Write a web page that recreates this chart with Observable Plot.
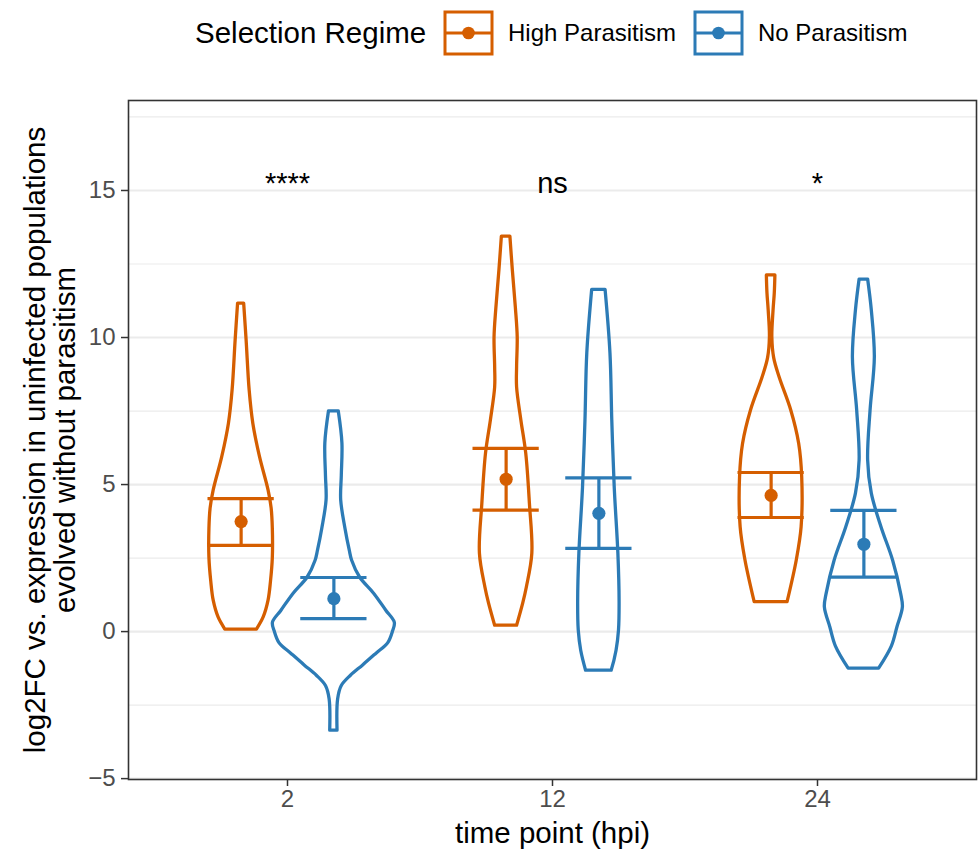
<!DOCTYPE html>
<html>
<head>
<meta charset="utf-8">
<script src="https://cdn.jsdelivr.net/npm/d3@7"></script>
<script src="https://cdn.jsdelivr.net/npm/@observablehq/plot@0.6"></script>
<style>
  body { margin: 0; background: #fff; font-family: "Liberation Sans", Arial, sans-serif; }
  #wrap { position: relative; width: 979px; height: 856px; background: #fff; }
  #legend { position: relative; width: 979px; height: 70px; }
  #legend .lt { position: absolute; font-size: 29.5px; line-height: 1; color: #000; white-space: nowrap; }
  #legend .ll { position: absolute; font-size: 24px; line-height: 1; color: #000; white-space: nowrap; }
  #legend svg { position: absolute; }
</style>
</head>
<body>
<div id="wrap">
  <div id="legend"></div>
  <div id="chart"></div>
</div>
<script>
// ---------- data ----------
const timeLabels = ["2", "12", "24"];
const regimes = ["High Parasitism", "No Parasitism"];
const regimeColors = ["#D55E00", "#2C7BB6"];
const legendTitle = "Selection Regime";
const xTitle = "time point (hpi)";
const yTitle = "log2FC vs. expression in uninfected populations\nevolved without parasitism";

const yMajor = [-5, 0, 5, 10, 15];
const yMinor = [-2.5, 2.5, 7.5, 12.5, 17.5];

// mean and interval per time point
const meanHigh = [3.74, 5.18, 4.63];
const lowHigh  = [2.93, 4.13, 3.88];
const upHigh   = [4.52, 6.23, 5.41];
const meanNo   = [1.12, 4.02, 2.97];
const lowNo    = [0.44, 2.83, 1.85];
const upNo     = [1.84, 5.23, 4.12];

const sigLabels = ["****", "ns", "*"];
const sigY = 14.93;

// violin profiles: [value, relative density]
const violinHigh2 = [[11.15,0.05],[9.9,0.09],[8.2,0.14],[7.07,0.2],[5.93,0.31],[4.8,0.45],[4.2,0.5],[3.5,0.52],[2.5,0.52],[1.7,0.49],[1.05,0.45],[0.48,0.37],[0.07,0.26]];
const violinNo2 = [[7.49,0.08],[6.4,0.14],[5.3,0.13],[4.46,0.12],[3.5,0.19],[2.76,0.26],[2.41,0.3],[1.84,0.43],[1.29,0.66],[0.71,0.86],[0.3,1.0],[0.0,0.97],[-0.4,0.89],[-0.75,0.7],[-1.15,0.48],[-1.5,0.28],[-1.85,0.13],[-2.3,0.07],[-3.37,0.06]];
const violinHigh12 = [[13.43,0.07],[12.28,0.11],[11.0,0.16],[10.0,0.19],[9.0,0.18],[8.3,0.18],[7.18,0.25],[6.05,0.33],[4.35,0.39],[2.65,0.43],[1.5,0.34],[0.95,0.28],[0.2,0.18]];
const violinNo12 = [[11.62,0.11],[9.46,0.19],[7.18,0.22],[4.9,0.26],[2.65,0.32],[1.0,0.34],[0.03,0.33],[-0.65,0.29],[-1.33,0.21]];
const violinHigh24 = [[12.11,0.07],[11.5,0.06],[10.92,0.04],[10.0,0.02],[9.3,0.05],[8.64,0.14],[7.52,0.33],[6.39,0.46],[5.24,0.51],[3.54,0.5],[2.41,0.42],[1.0,0.27]];
const violinNo24 = [[11.97,0.07],[10.92,0.13],[9.32,0.18],[7.52,0.11],[5.82,0.07],[4.69,0.13],[3.54,0.29],[2.41,0.48],[1.29,0.61],[0.82,0.64],[0.14,0.55],[-0.5,0.46],[-1.26,0.25]];

// ---------- build tables ----------
const dodge = 0.175, W = 0.23, capHalf = 0.125;
const profiles = [[violinHigh2, violinNo2], [violinHigh12, violinNo12], [violinHigh24, violinNo24]];
const violinRows = [];
profiles.forEach((pair, t) => pair.forEach((prof, g) => prof.forEach(([v, d]) => {
  violinRows.push({id: t + "-" + g, regime: regimes[g], c: t + 1 + (g ? dodge : -dodge), v, d});
})));
const summary = [];
timeLabels.forEach((lab, t) => {
  summary.push({regime: regimes[0], c: t + 1 - dodge, mean: meanHigh[t], lo: lowHigh[t], hi: upHigh[t]});
  summary.push({regime: regimes[1], c: t + 1 + dodge, mean: meanNo[t], lo: lowNo[t], hi: upNo[t]});
});
const sigRows = sigLabels.map((label, t) => ({c: t + 1, label}));

// ---------- legend ----------
const legend = document.getElementById("legend");
const lt = document.createElement("div");
lt.className = "lt"; lt.textContent = legendTitle;
lt.style.left = "195px"; lt.style.top = "18px";
legend.appendChild(lt);
const keyLefts = [443, 693], labLefts = [508, 758];
regimes.forEach((r, i) => {
  const col = regimeColors[i];
  const ns = "http://www.w3.org/2000/svg";
  const s = document.createElementNS(ns, "svg");
  s.setAttribute("width", 52); s.setAttribute("height", 46);
  s.style.left = keyLefts[i] + "px"; s.style.top = "10px";
  s.innerHTML = `<rect x="2" y="2" width="47" height="42" fill="none" stroke="${col}" stroke-width="3"/>
    <line x1="2" x2="49" y1="23" y2="23" stroke="${col}" stroke-width="3"/>
    <circle cx="25.5" cy="23" r="6.3" fill="${col}"/>`;
  legend.appendChild(s);
  const ll = document.createElement("div");
  ll.className = "ll"; ll.textContent = r;
  ll.style.left = labLefts[i] + "px"; ll.style.top = "21px";
  legend.appendChild(ll);
});

// ---------- plot ----------
const chart = Plot.plot({
  width: 979,
  height: 786,
  marginTop: 30,
  marginBottom: 77,
  marginLeft: 128,
  marginRight: 3,
  style: {fontFamily: "'Liberation Sans', Arial, sans-serif", background: "white"},
  x: {domain: [0.4, 3.6]},
  y: {domain: [-5.03, 18.06]},
  color: {domain: regimes, range: regimeColors},
  marks: [
    Plot.ruleY(yMinor, {stroke: "#ebebeb", strokeWidth: 1.2}),
    Plot.ruleY(yMajor, {stroke: "#ebebeb", strokeWidth: 2.2}),
    Plot.areaX(violinRows, {
      y: "v", x1: d => d.c - d.d * W, x2: d => d.c + d.d * W,
      z: "id", stroke: "regime", fill: "none", strokeWidth: 3.3, strokeLinejoin: "round", curve: "catmull-rom"
    }),
    Plot.ruleY(summary, {y: "hi", x1: d => d.c - capHalf, x2: d => d.c + capHalf, stroke: "regime", strokeWidth: 3.2}),
    Plot.ruleY(summary, {y: "lo", x1: d => d.c - capHalf, x2: d => d.c + capHalf, stroke: "regime", strokeWidth: 3.2}),
    Plot.ruleX(summary, {x: "c", y1: "lo", y2: "hi", stroke: "regime", strokeWidth: 3.2}),
    Plot.dot(summary, {x: "c", y: "mean", fill: "regime", r: 6.6}),
    Plot.text(sigRows, {x: "c", y: () => sigY, text: "label", fontSize: 29, lineAnchor: "bottom", fill: "black"}),
    Plot.frame({stroke: "#333333", strokeWidth: 1.6}),
    Plot.axisY(yMajor, {tickSize: 7, tickPadding: 6, fontSize: 24, fill: "#4d4d4d", stroke: "#333333", strokeWidth: 1.5, label: null}),
    Plot.axisX([1, 2, 3], {tickFormat: i => timeLabels[i - 1], tickSize: 7, tickPadding: 3, fontSize: 24, fill: "#4d4d4d", stroke: "#333333", strokeWidth: 1.5, label: null}),
    Plot.text([xTitle], {frameAnchor: "bottom", dy: 54, fontSize: 29.5, fill: "black", lineAnchor: "middle", textAnchor: "middle"}),
    Plot.text([yTitle], {frameAnchor: "left", dx: -78, rotate: -90, fontSize: 29.5, lineHeight: 1.02, fill: "black", lineAnchor: "middle", textAnchor: "middle"})
  ]
});
document.getElementById("chart").appendChild(chart);
</script>
</body>
</html>
